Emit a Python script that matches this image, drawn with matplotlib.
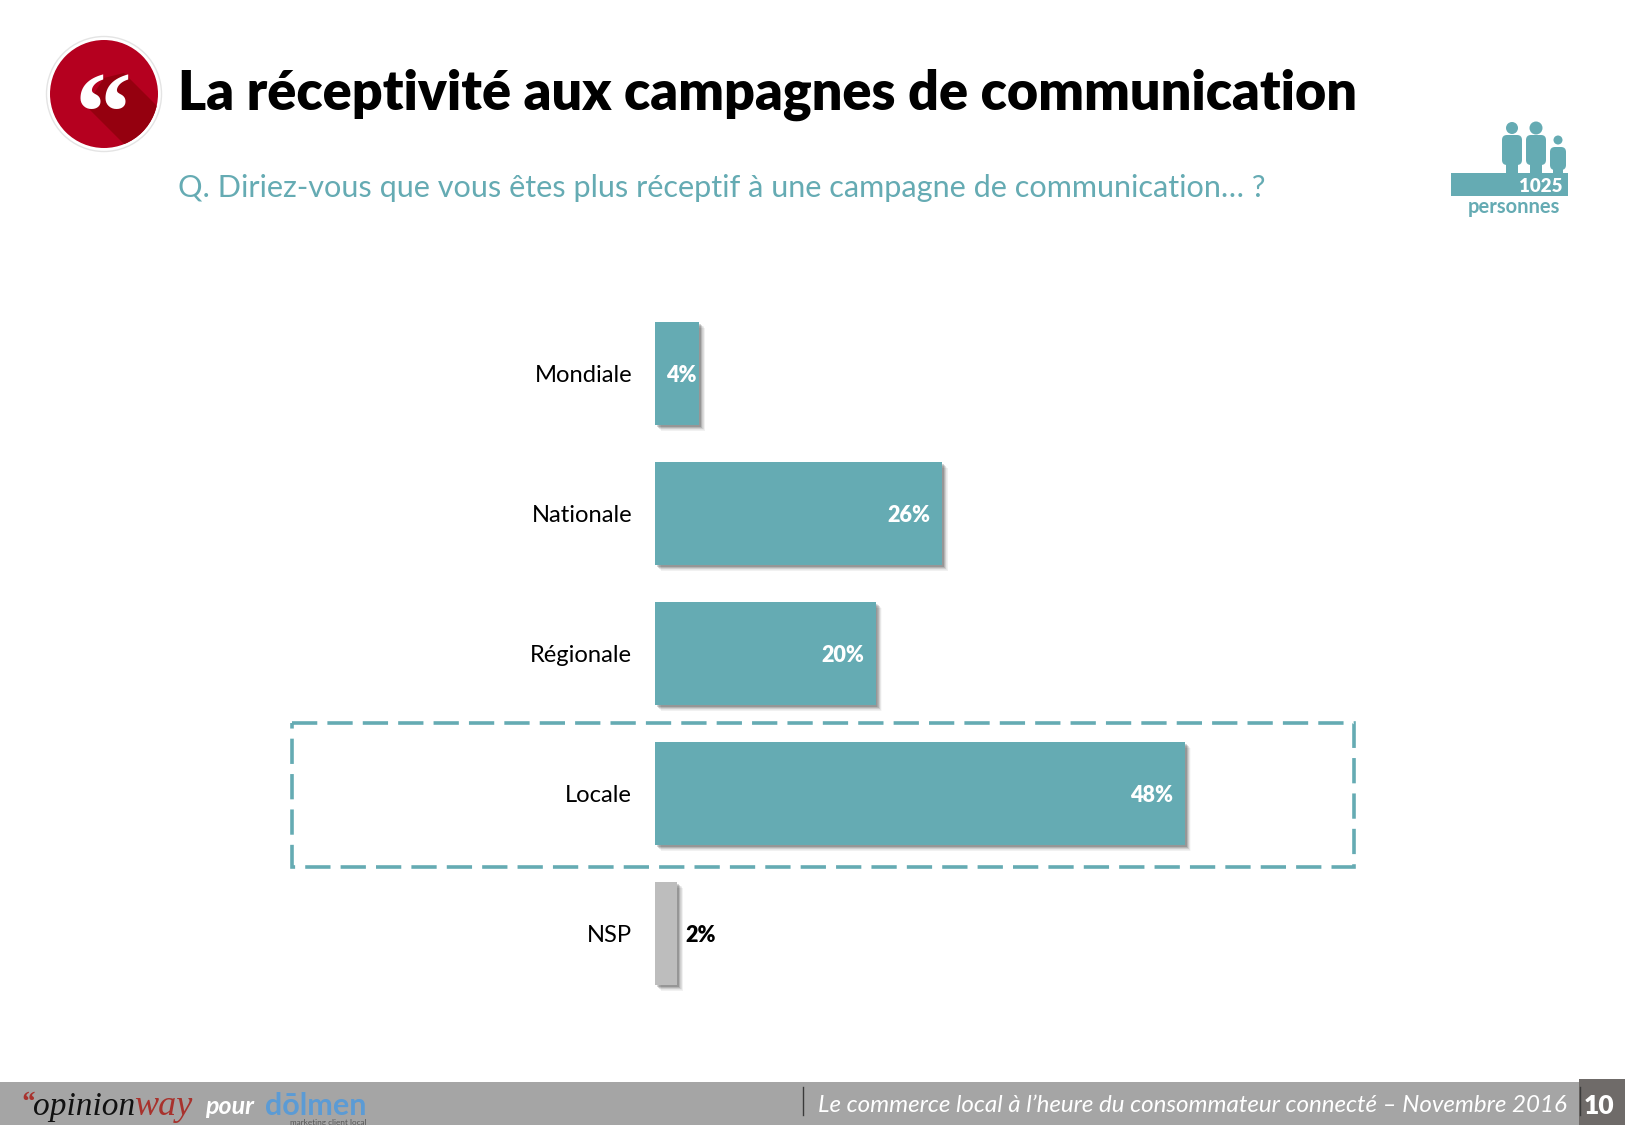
import matplotlib
matplotlib.use('Agg')
import matplotlib.pyplot as plt
import matplotlib.patheffects as pe
from matplotlib.patches import Circle, Rectangle, Polygon, FancyBboxPatch

categories = ['Mondiale', 'Nationale', 'Régionale', 'Locale', 'NSP']
values = [4, 26, 20, 48, 2]
value_labels = ['4%', '26%', '20%', '48%', '2%']

title = 'La réceptivité aux campagnes de communication'
question = 'Q. Diriez-vous que vous êtes plus réceptif à une campagne de communication… ?'
footer = 'Le commerce local à l’heure du consommateur connecté – Novembre 2016'

TEAL = '#65abb3'
GREY = '#bdbdbd'
W, H = 1625, 1125

plt.rcParams['font.family'] = ['Lato', 'DejaVu Sans']

fig = plt.figure(figsize=(W / 100, H / 100), dpi=100)

# page layer, in pixels of the slide
page = fig.add_axes([0, 0, 1, 1])
page.set_xlim(0, W)
page.set_ylim(H, 0)
page.axis('off')

# quote badge
page.add_patch(Circle((104, 94), 57.5, fc='white', ec='#e4e4e4', lw=1))
badge = Circle((104, 94), 54, fc='#b5001f', ec='none')
page.add_patch(badge)
shade = Polygon([(86, 106), (104, 78), (124, 73), (175, 124), (175, 170), (150, 170)],
                fc='#95000f', ec='none')
page.add_patch(shade)
shade.set_clip_path(badge)
page.text(103, 123, '“', color='white', fontsize=82, family='Liberation Serif',
          weight='bold', ha='center', va='center')

page.text(178, 95, title, fontsize=38.8, weight='heavy', color='black', va='center')
page.text(178, 188, question, fontsize=22.1, color=TEAL, va='center')

# sample size icon
page.add_patch(Rectangle((1451, 173), 117, 23, fc=TEAL, ec='none'))
for cx, cy, r, half, top, bottom, leg in [(1512, 128, 6, 10, 135, 165, 6),
                                          (1536, 128, 6.5, 10, 135, 165, 6),
                                          (1558, 140, 4.5, 8, 147, 170, 5)]:
    page.add_patch(Circle((cx, cy), r, fc=TEAL, ec='none'))
    page.add_patch(FancyBboxPatch((cx - half + 3, top + 3), 2 * half - 6, bottom - top - 6,
                                  boxstyle='round,pad=3,rounding_size=5', fc=TEAL, ec='none'))
    page.add_patch(Rectangle((cx - leg, bottom - 2), 2 * leg, 175 - bottom, fc=TEAL, ec='none'))
page.text(1541, 187, '1025', color='white', fontsize=13.5, weight='heavy', ha='center', va='center')
page.text(1514, 207, 'personnes', color=TEAL, fontsize=14.5, weight='bold', ha='center', va='center')

# dashed frame around Locale
page.add_patch(Rectangle((292, 723), 1062, 144, fc='none', ec=TEAL, lw=2.6,
                         ls=(0, (7, 2.8)), capstyle='butt'))

# footer
page.add_patch(Rectangle((0, 1082), W, H - 1082, fc='#a5a5a5', ec='none'))
page.add_patch(Rectangle((1579, 1079), W - 1579, H - 1079, fc='#6f6b69', ec='none'))
page.plot([803, 803], [1087, 1115], color='#3a3a3a', lw=1)
page.plot([1580, 1580], [1087, 1115], color='#3a3a3a', lw=1)
page.text(818, 1106, footer, color='white', fontsize=17.4, style='italic', va='center')
page.text(1599, 1106, '10', color='white', fontsize=19, weight='heavy', ha='center', va='center')

page.text(20, 1110, '“', color='#a8322d', fontsize=20, family='Liberation Serif',
          style='italic', weight='bold', va='baseline')
page.text(33, 1115, 'opinion', color='#111111', fontsize=24, family='Liberation Serif',
          style='italic', va='baseline')
page.text(134, 1115, 'way', color='#a8322d', fontsize=26, family='Liberation Serif',
          style='italic', va='baseline')
page.text(205, 1106, 'pour', color='white', fontsize=18, style='italic', weight='bold', va='center')
page.text(265, 1115, 'dōlmen', color='#5b9bd5', fontsize=22, weight='bold', va='baseline')
page.text(367, 1125, 'marketing client local', color='#555555', fontsize=5.9, ha='right', va='baseline')

# bars: 11.04 px per point, 140 px between rows
left, right = 655, 655 + 60 * 11.04
top, bottom = 303.5, 1003.5
ax = fig.add_axes([left / W, 1 - bottom / H, (right - left) / W, (bottom - top) / H])
ax.patch.set_alpha(0)
positions = list(range(len(categories)))
colors = [TEAL] * 4 + [GREY]
shadow = [pe.SimplePatchShadow(offset=(o, -o), shadow_rgbFace='black', alpha=0.11 - o * 0.02)
          for o in (4.4, 4.0, 3.6, 3.2, 2.8, 2.4, 2.0, 1.6, 1.2)] + [pe.Normal()]
bars = ax.barh(positions, values, height=0.736, color=colors)
for bar in bars:
    bar.set_path_effects(shadow)

ax.set_xlim(0, 60)
ax.set_ylim(4.5, -0.5)
ax.set_xticks([])
ax.set_yticks(positions, categories)
ax.tick_params(axis='y', length=0, pad=16.5, labelsize=17.1, labelcolor='black')
for s in ax.spines.values():
    s.set_visible(False)

for y, v, lab in zip(positions, values, value_labels):
    if lab == '2%':
        ax.annotate(lab, (v, y), xytext=(6, -1.5), textcoords='offset points', color='black',
                    fontsize=15.5, weight='heavy', ha='left', va='center')
    else:
        pad = 2 if v < 5 else 8.5
        ax.annotate(lab, (v, y), xytext=(-pad, -1.5), textcoords='offset points', color='white',
                    fontsize=15.5, weight='heavy', ha='right', va='center')

fig.savefig('out.png', dpi=100)
